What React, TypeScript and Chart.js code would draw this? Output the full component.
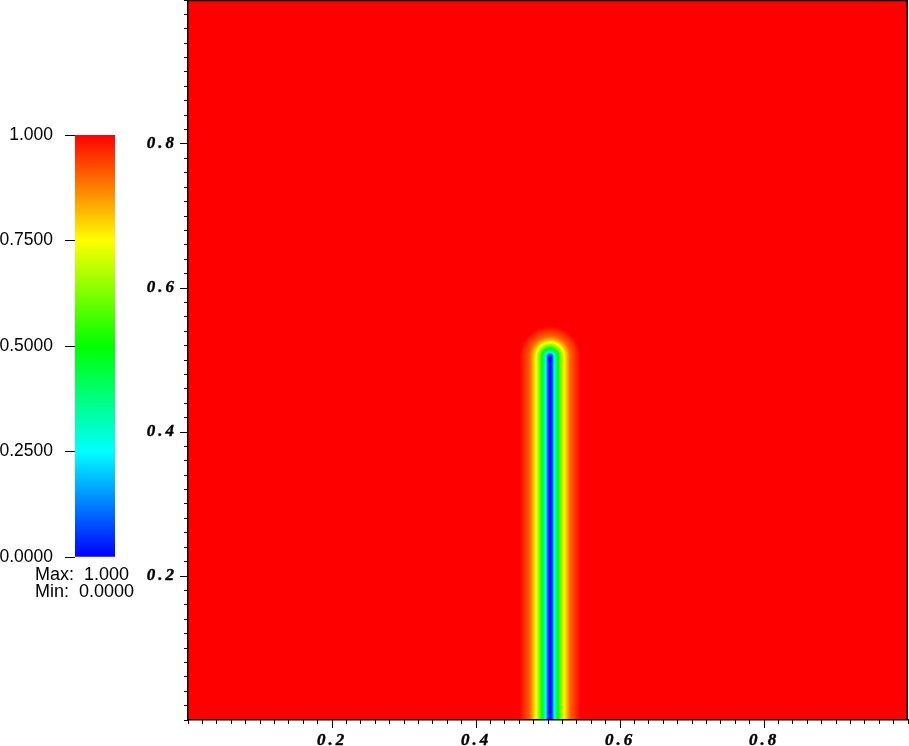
import React, { useEffect, useRef } from "react";
import { Chart, registerables } from "chart.js";

Chart.register(...registerables);

// ---- Data ----
// Crack (phase-field) geometry in data units
const crackX = 0.5028;
const crackTipY = 0.505;
// Damage profile: distance from crack (data units) -> field value
const profileDist = [0, 0.003, 0.0056, 0.0111, 0.0194, 0.0278, 0.042];
const profileValue = [0, 0.06, 0.25, 0.5, 0.75, 0.9, 1];
// Colour map (value stops -> colour)
const colorStops = [0, 0.25, 0.5, 0.75, 1];
const colorHex = ["#0000ff", "#00ffff", "#00ff00", "#ffff00", "#ff0000"];
// Axis ticks
const majorTickValues = [0.2, 0.4, 0.6, 0.8];
const majorTickLabels = ["0.2", "0.4", "0.6", "0.8"];
const minorTickStep = 0.02;
// Colour bar ticks
const cbarTicks = [0, 0.25, 0.5, 0.75, 1];
const cbarTickLabels = ["0.0000", "0.2500", "0.5000", "0.7500", "1.000"];
const rangeMaxLabel = "Max:  1.000";
const rangeMinLabel = "Min:  0.0000";

const W = 909;
const H = 746;

function hexToRgb(h: string): number[] {
  return [parseInt(h.slice(1, 3), 16), parseInt(h.slice(3, 5), 16), parseInt(h.slice(5, 7), 16)];
}
const colorRgb = colorHex.map(hexToRgb);

function interp(xs: number[], ys: number[], x: number): number {
  if (x <= xs[0]) return ys[0];
  for (let i = 1; i < xs.length; i++) {
    if (x <= xs[i]) {
      const t = (x - xs[i - 1]) / (xs[i] - xs[i - 1]);
      return ys[i - 1] + t * (ys[i] - ys[i - 1]);
    }
  }
  return ys[ys.length - 1];
}

function colorFor(v: number): number[] {
  const c = [0, 0, 0];
  for (let k = 0; k < 3; k++) {
    c[k] = interp(colorStops, colorRgb.map((r) => r[k]), v);
  }
  return c;
}

const LETTER_SPACING = "3px";

const fieldPlugin = {
  id: "field",
  beforeDraw(chart: any) {
    const { ctx, chartArea, scales } = chart;
    const xs = scales.x;
    const ys = scales.y;
    const w = Math.round(chartArea.right - chartArea.left);
    const h = Math.round(chartArea.bottom - chartArea.top);
    const off = document.createElement("canvas");
    off.width = w;
    off.height = h;
    const octx = off.getContext("2d")!;
    const img = octx.createImageData(w, h);
    const d = img.data;
    for (let j = 0; j < h; j++) {
      const yv = ys.getValueForPixel(chartArea.top + j + 0.5);
      const dy = yv > crackTipY ? yv - crackTipY : 0;
      for (let i = 0; i < w; i++) {
        const xv = xs.getValueForPixel(chartArea.left + i + 0.5);
        const dx = xv - crackX;
        const dist = Math.sqrt(dx * dx + dy * dy);
        const val = interp(profileDist, profileValue, dist);
        const c = colorFor(val);
        const p = (j * w + i) * 4;
        d[p] = c[0];
        d[p + 1] = c[1];
        d[p + 2] = c[2];
        d[p + 3] = 255;
      }
    }
    octx.putImageData(img, 0, 0);
    ctx.save();
    ctx.drawImage(off, chartArea.left, chartArea.top);
    ctx.restore();
    // wide tracking for the Courier-style axis labels
    (ctx as any).letterSpacing = LETTER_SPACING;
  },
  afterDraw(chart: any) {
    const { ctx, chartArea } = chart;
    (ctx as any).letterSpacing = "0px";
    ctx.save();
    ctx.strokeStyle = "#000";
    ctx.lineWidth = 1.5;
    ctx.beginPath();
    ctx.moveTo(chartArea.left, chartArea.top + 0.5);
    ctx.lineTo(chartArea.right - 0.75, chartArea.top + 0.5);
    ctx.lineTo(chartArea.right - 0.75, chartArea.bottom);
    ctx.stroke();
    ctx.restore();
  },
};

const axisFont = { family: "'Liberation Serif', 'DejaVu Serif', serif", size: 17, weight: "bold" as const, style: "italic" as const };

function zeroPad(s: any) {
  s.paddingTop = 0;
  s.paddingBottom = 0;
  s.paddingLeft = 0;
  s.paddingRight = 0;
}

export default function App() {
  const mainRef = useRef<HTMLCanvasElement>(null);
  const cbarRef = useRef<HTMLCanvasElement>(null);

  useEffect(() => {
    const majorAfterBuild = (s: any) => {
      s.ticks = majorTickValues.map((v) => ({ value: v }));
    };
    const majorCallback = (_v: any, i: number) => majorTickLabels[i];
    const main = new Chart(mainRef.current!, {
      type: "scatter",
      data: { datasets: [{ data: [], pointRadius: 0 }] },
      options: {
        animation: false,
        responsive: false,
        events: [],
        layout: { padding: { left: 0, right: 1, top: 0, bottom: 0 } },
        plugins: { legend: { display: false }, tooltip: { enabled: false } },
        scales: {
          x: {
            type: "linear",
            axis: "x",
            position: "bottom",
            weight: 1,
            min: 0,
            max: 1,
            afterBuildTicks: majorAfterBuild,
            afterFit: (s: any) => {
              s.height = 26;
              zeroPad(s);
            },
            ticks: {
              callback: majorCallback,
              padding: 2,
              color: "#000",
              font: axisFont,
              maxRotation: 0,
              autoSkip: false,
              textStrokeWidth: 0.4,
              textStrokeColor: "#000",
            },
            grid: { drawOnChartArea: false, tickLength: 8, tickWidth: 1, tickColor: "#000" },
            border: { display: true, color: "#000", width: 1.5 },
          },
          xMinor: {
            type: "linear",
            axis: "x",
            position: "bottom",
            weight: 0,
            min: 0,
            max: 1,
            afterFit: (s: any) => {
              s.height = 0;
              zeroPad(s);
            },
            ticks: { stepSize: minorTickStep, display: false, autoSkip: false },
            grid: { drawOnChartArea: false, tickLength: 4, tickWidth: 1, tickColor: "#000" },
            border: { display: false },
          },
          y: {
            type: "linear",
            axis: "y",
            position: "left",
            weight: 1,
            min: 0,
            max: 1,
            afterBuildTicks: majorAfterBuild,
            afterFit: (s: any) => {
              s.width = 188;
              zeroPad(s);
            },
            ticks: {
              callback: majorCallback,
              padding: 3,
              color: "#000",
              font: axisFont,
              autoSkip: false,
              textStrokeWidth: 0.4,
              textStrokeColor: "#000",
            },
            grid: { drawOnChartArea: false, tickLength: 8, tickWidth: 1, tickColor: "#000" },
            border: { display: true, color: "#000", width: 1.5 },
          },
          yMinor: {
            type: "linear",
            axis: "y",
            position: "left",
            weight: 0,
            min: 0,
            max: 1,
            afterFit: (s: any) => {
              s.width = 0;
              zeroPad(s);
            },
            ticks: { stepSize: minorTickStep, display: false, autoSkip: false },
            grid: { drawOnChartArea: false, tickLength: 4, tickWidth: 1, tickColor: "#000" },
            border: { display: false },
          },
        },
      } as any,
      plugins: [fieldPlugin],
    });

    const cbar = new Chart(cbarRef.current!, {
      type: "bar",
      data: {
        labels: [""],
        datasets: [
          {
            data: [[0, 1]] as any,
            borderWidth: 0,
            barPercentage: 1,
            categoryPercentage: 1,
            backgroundColor: (context: any) => {
              const { chart } = context;
              const { ctx, chartArea, scales } = chart;
              if (!chartArea || !scales.y) return colorHex[colorHex.length - 1];
              const g = ctx.createLinearGradient(0, scales.y.getPixelForValue(0), 0, scales.y.getPixelForValue(1));
              colorStops.forEach((s, i) => g.addColorStop(s, colorHex[i]));
              return g;
            },
          },
        ],
      },
      options: {
        animation: false,
        responsive: false,
        events: [],
        layout: { padding: { left: 0, right: 35, top: 135, bottom: 189 } },
        plugins: { legend: { display: false }, tooltip: { enabled: false } },
        scales: {
          x: { display: false },
          y: {
            min: 0,
            max: 1,
            position: "left",
            afterBuildTicks: (s: any) => {
              s.ticks = cbarTicks.map((v) => ({ value: v }));
            },
            afterFit: (s: any) => {
              s.width = 75;
              zeroPad(s);
            },
            ticks: {
              callback: (_v: any, i: number) => cbarTickLabels[i],
              padding: 12,
              color: "#000",
              font: { family: "'Liberation Sans', Arial, sans-serif", size: 17.5 },
              autoSkip: false,
            },
            grid: { drawOnChartArea: false, tickLength: 10, tickWidth: 1, tickColor: "#000" },
            border: { display: false },
          },
        },
      } as any,
    });

    return () => {
      main.destroy();
      cbar.destroy();
    };
  }, []);

  return (
    <div style={{ position: "fixed", left: 0, top: 0, width: W, height: H, background: "#fff" }}>
      <canvas ref={cbarRef} width={150} height={H} style={{ position: "absolute", left: 0, top: 0, width: 150, height: H }} />
      <canvas ref={mainRef} width={W} height={H} style={{ position: "absolute", left: 0, top: 0, width: W, height: H }} />
      <div
        style={{
          position: "absolute",
          left: 35,
          top: 566,
          fontFamily: "'Liberation Sans', Arial, sans-serif",
          fontSize: 18,
          lineHeight: "17px",
          color: "#000",
          whiteSpace: "pre",
        }}
      >
        <div>{rangeMaxLabel}</div>
        <div>{rangeMinLabel}</div>
      </div>
    </div>
  );
}
